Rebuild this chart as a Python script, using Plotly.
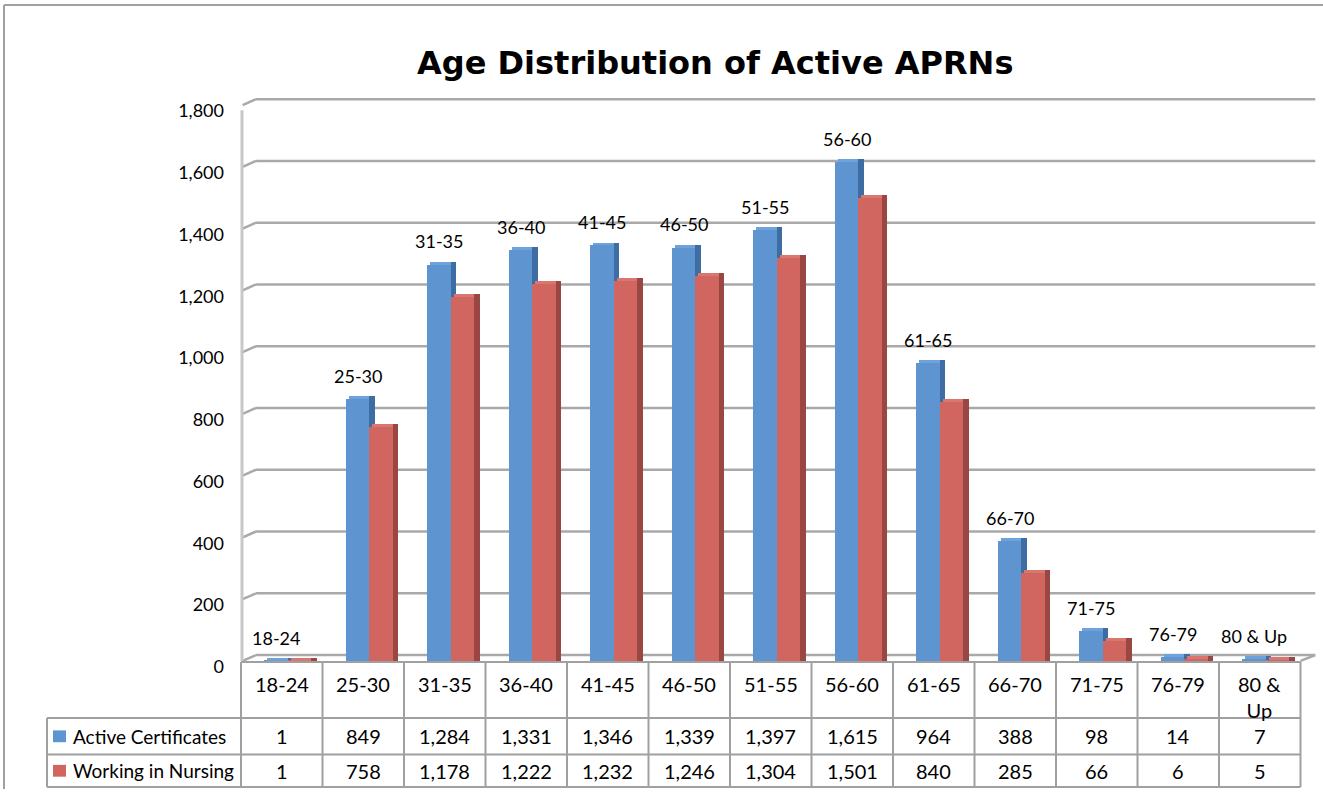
import plotly.graph_objects as go

categories = ["18-24", "25-30", "31-35", "36-40", "41-45", "46-50", "51-55",
              "56-60", "61-65", "66-70", "71-75", "76-79", "80 & Up"]
header_labels = ["18-24", "25-30", "31-35", "36-40", "41-45", "46-50", "51-55",
                 "56-60", "61-65", "66-70", "71-75", "76-79", "80 &<br>Up"]
active_certificates = [1, 849, 1284, 1331, 1346, 1339, 1397, 1615, 964, 388, 98, 14, 7]
working_in_nursing = [1, 758, 1178, 1222, 1232, 1246, 1304, 1501, 840, 285, 66, 6, 5]
series_names = ["Active Certificates", "Working in Nursing"]
y_ticks = [0, 200, 400, 600, 800, 1000, 1200, 1400, 1600, 1800]

W, H = 1323, 801
FONT = "Lato"
BLUE, BLUE_SIDE, BLUE_TOP = "#5e95d1", "#3e6da4", "#6da2da"
RED, RED_SIDE, RED_TOP = "#d16660", "#9a4643", "#d97670"
GRID = "#a9a9a9"

# geometry (pixels)
X0, COL, N = 241, 81.5, len(categories)
DX, DY = 15, 6            # fake 3d depth of back wall
Y0_PX, K = 671, 0.3135    # pixel of value 0, pixels per unit
Y_MIN, Y_MAX = -14, 1830
dx_u = DX / COL
dy_u = DY / K

x_dom = [X0 / W, (X0 + (N + dx_u) * COL) / W]
y_dom = [1 - (Y0_PX - Y_MIN * K) / H, 1 - (Y0_PX - Y_MAX * K) / H]

def px(x):
    return x / W

def py(y):
    return 1 - y / H

face_w, side_w = 0.286, 0.067
blue_off = -0.212
red_off = blue_off + face_w
lift = 3 / K

fig = go.Figure()
for vals, name, off, c_face, c_side, c_top in (
        (active_certificates, series_names[0], blue_off, BLUE, BLUE_SIDE, BLUE_TOP),
        (working_in_nursing, series_names[1], red_off, RED, RED_SIDE, RED_TOP)):
    fig.add_trace(go.Bar(x=categories, y=vals, name=name,
                         marker=dict(color=c_face, line_width=0), width=face_w, offset=off))
    fig.add_trace(go.Bar(x=categories, y=[lift] * N, base=vals,
                         marker=dict(color=c_top, line_width=0), width=face_w,
                         offset=off + side_w * 0.5, hoverinfo="skip"))
    fig.add_trace(go.Bar(x=categories, y=[v + lift for v in vals],
                         marker=dict(color=c_side, line_width=0), width=side_w,
                         offset=off + face_w, hoverinfo="skip"))

shapes = []
# back wall gridlines with the small diagonal to the front edge
for v in y_ticks:
    shapes.append(dict(type="line", xref="x", yref="y", x0=-0.5 + dx_u, x1=N - 0.5 + dx_u,
                       y0=v + dy_u, y1=v + dy_u, line=dict(color=GRID, width=2.5), layer="below"))
    shapes.append(dict(type="line", xref="x", yref="y", x0=-0.48, x1=-0.5 + dx_u,
                       y0=v, y1=v + dy_u, line=dict(color=GRID, width=2.5), layer="below"))
shapes.append(dict(type="line", xref="x", yref="y", x0=N - 0.5, x1=N - 0.5 + dx_u,
                   y0=0, y1=dy_u, line=dict(color=GRID, width=2.5), layer="below"))
# side wall
shapes.append(dict(type="line", xref="paper", yref="paper", x0=px(X0 + 1), x1=px(X0 + 1),
                   y0=py(112), y1=py(Y0_PX), line=dict(color="#c8c8c8", width=3)))
# outer border
border = dict(color="#a0a0a0", width=2)
shapes.append(dict(type="line", xref="paper", yref="paper", x0=px(4), x1=1.0,
                   y0=py(5), y1=py(5), line=border))
shapes.append(dict(type="line", xref="paper", yref="paper", x0=px(4), x1=px(4),
                   y0=py(5), y1=0.0, line=border))

# data table
T_TOP, T_R1, T_R2, T_BOT, T_LEFT = Y0_PX + 1, 729, 766, 799, 47
T_RIGHT = X0 + N * COL
tline = dict(color="#a0a0a0", width=2)
shapes.append(dict(type="line", xref="paper", yref="paper", x0=px(X0), x1=px(T_RIGHT),
                   y0=py(T_TOP), y1=py(T_TOP), line=tline))
for yy in (T_R1, T_R2, T_BOT):
    shapes.append(dict(type="line", xref="paper", yref="paper", x0=px(T_LEFT), x1=px(T_RIGHT),
                       y0=py(yy), y1=py(yy), line=tline))
for i in range(N + 1):
    shapes.append(dict(type="line", xref="paper", yref="paper", x0=px(X0 + i * COL),
                       x1=px(X0 + i * COL), y0=py(T_TOP), y1=py(T_BOT), line=tline))
shapes.append(dict(type="line", xref="paper", yref="paper", x0=px(T_LEFT), x1=px(T_LEFT),
                   y0=py(T_R1), y1=py(T_BOT), line=tline))

annotations = []
txt = dict(family=FONT, size=18, color="#000000")
ttxt = dict(family=FONT, size=20, color="#000000")
for c, h, a, w in zip(categories, header_labels, active_certificates, working_in_nursing):
    annotations.append(dict(x=c, xref="x", y=py(T_TOP + 8), yref="paper", text=h,
                            showarrow=False, yanchor="top", font=ttxt))
    annotations.append(dict(x=c, xref="x", y=py((T_R1 + T_R2) / 2), yref="paper",
                            text=f"{a:,}", showarrow=False, yanchor="middle", font=ttxt))
    annotations.append(dict(x=c, xref="x", y=py((T_R2 + T_BOT) / 2), yref="paper",
                            text=f"{w:,}", showarrow=False, yanchor="middle", font=ttxt))
    # category label above the blue bar
    annotations.append(dict(x=c, xref="x", y=a, yref="y", text=c, showarrow=False,
                            xshift=(blue_off + face_w / 2) * COL, yanchor="bottom",
                            yshift=10, font=txt))

# legend keys inside the table
for name, color, y0, y1 in ((series_names[0], BLUE, T_R1, T_R2),
                            (series_names[1], RED, T_R2, T_BOT)):
    yc = (y0 + y1) / 2
    shapes.append(dict(type="rect", xref="paper", yref="paper", x0=px(53), x1=px(66),
                       y0=py(yc + 6), y1=py(yc - 6), fillcolor=color, line_width=0))
    annotations.append(dict(x=px(71), xref="paper", y=py(yc), yref="paper", text=name,
                            showarrow=False, xanchor="left", yanchor="middle",
                            font=dict(family=FONT, size=19, color="#000000")))

annotations.append(dict(x=px(715), y=py(64), xref="paper", yref="paper",
                        text="<b>Age Distribution of Active APRNs</b>", showarrow=False,
                        xanchor="center", yanchor="middle",
                        font=dict(family="DejaVu Sans", size=32, color="#000000")))

fig.update_layout(
    width=W, height=H,
    margin=dict(l=0, r=0, t=0, b=0),
    paper_bgcolor="white", plot_bgcolor="white",
    barmode="overlay", bargap=0, showlegend=False,
    shapes=shapes, annotations=annotations,
    xaxis=dict(domain=x_dom, range=[-0.5, N - 0.5 + dx_u], showticklabels=False,
               showgrid=False, zeroline=False, showline=False, fixedrange=True),
    yaxis=dict(domain=y_dom, range=[Y_MIN, Y_MAX], tickvals=y_ticks,
               ticktext=[f"{v:,}" for v in y_ticks], showgrid=False, zeroline=False,
               showline=False, ticks="", ticklabelstandoff=16, ticklabelshift=6,
               tickfont=txt, fixedrange=True),
)

fig.write_html("out.html", config={"displayModeBar": False},
               post_script="document.body.style.margin='0';")
